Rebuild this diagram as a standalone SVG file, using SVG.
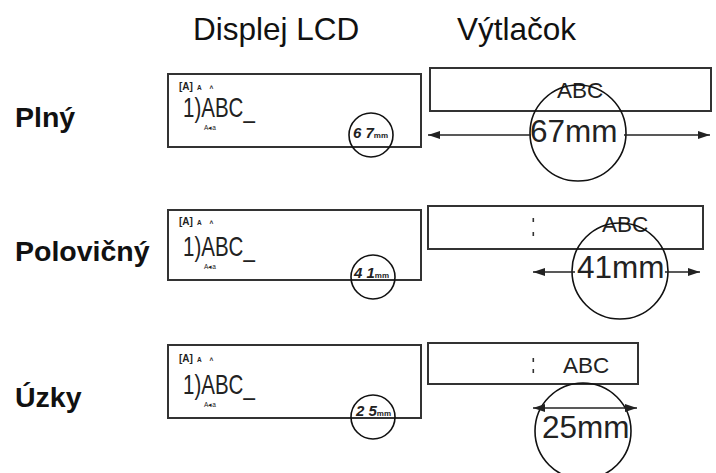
<svg xmlns="http://www.w3.org/2000/svg" width="716" height="473" viewBox="0 0 716 473">
<style>
.hdr{font-family:"Liberation Sans",Arial,sans-serif;font-size:31.5px;fill:#111}
.lbl{font-family:"Liberation Sans",Arial,sans-serif;font-size:28.5px;font-weight:bold;fill:#111}
.box{fill:#fff;stroke:#333;stroke-width:2}
.circ{fill:none;stroke:#111;stroke-width:1.6}
.lcd{font-family:"Liberation Sans",Arial,sans-serif;fill:#222}
.big{font-size:27px}
.tiny{font-size:6.5px}
.ico{font-size:10px;font-weight:bold}
.seg{font-size:15px;font-weight:bold;font-style:italic}
.sub{font-size:8px;font-style:normal}
.abc{font-family:"Liberation Sans",Arial,sans-serif;font-size:22.5px;fill:#222}
.mm{font-family:"Liberation Sans",Arial,sans-serif;font-size:31.5px;fill:#222}
.arr{stroke:#222;stroke-width:1.6;fill:none}
.dot{fill:#333}
</style>
<defs>
<marker id="ah" viewBox="0 0 12 8" refX="12" refY="4" markerWidth="12" markerHeight="8" markerUnits="userSpaceOnUse" orient="auto">
<path d="M0,0 L12,4 L0,8 Z" fill="#222"/>
</marker>
</defs>
<g id="headers">
<text class="hdr" x="193" y="40">Displej LCD</text>
<text class="hdr" x="457" y="40">Výtlačok</text>
</g>
<g id="row-plny">
<text class="lbl" x="15" y="127">Plný</text>
<g id="lcd-plny">
<rect class="box" x="168" y="74" width="253" height="73"/>
<text class="lcd ico" x="179" y="90">[A]<tspan class="tiny" dx="4">A</tspan><tspan class="tiny" dx="8">˄</tspan></text>
<text class="lcd big" transform="translate(183,117) scale(0.76,1)">1)ABC_</text>
<text class="lcd tiny" x="204" y="129.5">A◂a</text>
<text class="lcd seg" x="353" y="138">6 7<tspan class="sub">mm</tspan></text>
<circle class="circ" cx="371" cy="135" r="22"/>
</g>
<g id="tape-plny">
<rect class="box" x="430" y="68" width="281" height="43"/>
<text class="abc" x="557" y="98">ABC</text>
<text class="mm" x="530" y="142">67mm</text>
<circle class="circ" cx="578" cy="133" r="48"/>
</g>
</g>
<g id="row-polovicny">
<text class="lbl" x="15" y="261">Polovičný</text>
<g id="lcd-polovicny">
<rect class="box" x="168" y="210" width="253" height="70"/>
<text class="lcd ico" x="179" y="225">[A]<tspan class="tiny" dx="4">A</tspan><tspan class="tiny" dx="8">˄</tspan></text>
<text class="lcd big" transform="translate(183,256) scale(0.76,1)">1)ABC_</text>
<text class="lcd tiny" x="204" y="268.5">A◂a</text>
<text class="lcd seg" x="354" y="278">4 1<tspan class="sub">mm</tspan></text>
<circle class="circ" cx="373" cy="277" r="22"/>
</g>
<g id="tape-polovicny">
<rect class="box" x="428" y="206" width="275" height="43"/>
<rect class="dot" x="532.5" y="218" width="1.6" height="4"/>
<rect class="dot" x="532.5" y="232" width="1.6" height="4"/>
<text class="abc" x="602" y="232">ABC</text>
<text class="mm" x="577" y="278">41mm</text>
<circle class="circ" cx="620" cy="271" r="48"/>
</g>
</g>
<g id="row-uzky">
<text class="lbl" x="15" y="407">Úzky</text>
<g id="lcd-uzky">
<rect class="box" x="168" y="345" width="253" height="73"/>
<text class="lcd ico" x="179" y="362">[A]<tspan class="tiny" dx="4">A</tspan><tspan class="tiny" dx="8">˄</tspan></text>
<text class="lcd big" transform="translate(183,394) scale(0.76,1)">1)ABC_</text>
<text class="lcd tiny" x="204" y="406.5">A◂a</text>
<text class="lcd seg" x="356" y="416">2 5<tspan class="sub">mm</tspan></text>
<circle class="circ" cx="373" cy="417" r="22"/>
</g>
<g id="tape-uzky">
<rect class="box" x="428" y="343" width="210" height="41"/>
<rect class="dot" x="532.5" y="358" width="1.6" height="4"/>
<rect class="dot" x="532.5" y="369" width="1.6" height="4"/>
<text class="abc" x="563" y="373">ABC</text>
<text class="mm" x="542" y="438">25mm</text>
<circle class="circ" cx="583" cy="431" r="48"/>
</g>
</g>
<g id="connectors">
<line class="arr" x1="531" y1="135" x2="428" y2="135" marker-end="url(#ah)"/>
<line class="arr" x1="624" y1="135" x2="710" y2="135" marker-end="url(#ah)"/>
<line class="arr" x1="575" y1="272" x2="533" y2="272" marker-end="url(#ah)"/>
<line class="arr" x1="665" y1="272" x2="700" y2="272" marker-end="url(#ah)"/>
<line class="arr" x1="585" y1="408" x2="533" y2="408" marker-end="url(#ah)"/>
<line class="arr" x1="585" y1="408" x2="637" y2="408" marker-end="url(#ah)"/>
</g>
</svg>
